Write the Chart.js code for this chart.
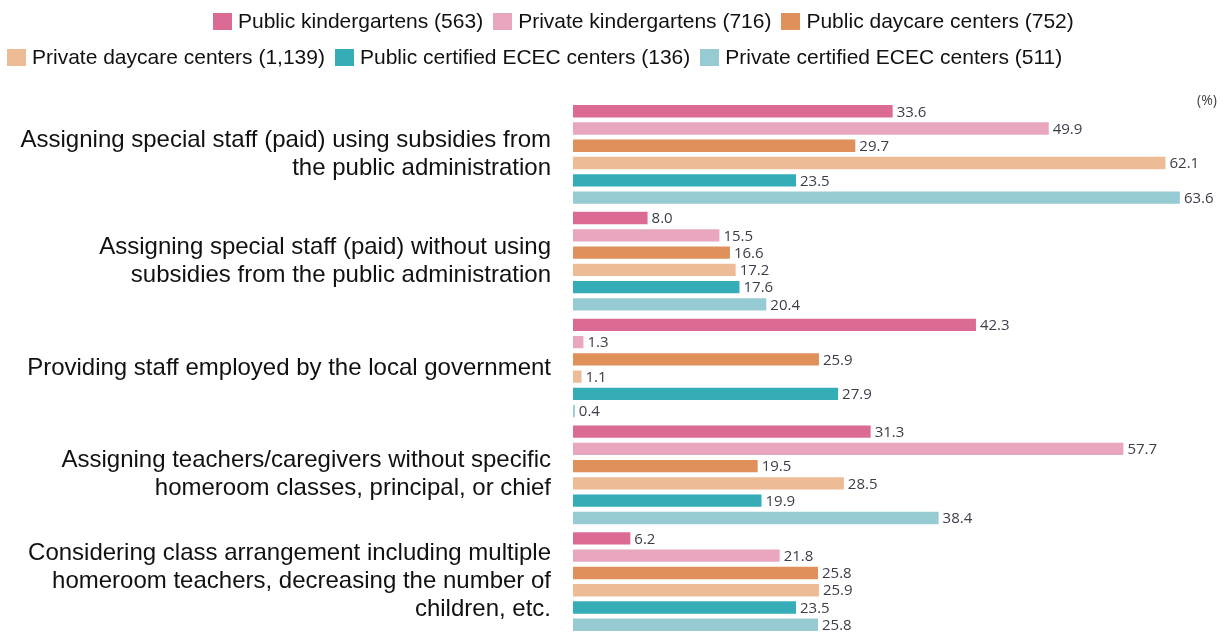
<!DOCTYPE html>
<html>
<head>
<meta charset="utf-8">
<script src="https://cdn.jsdelivr.net/npm/chart.js@4.4.1/dist/chart.umd.min.js"></script>
<style>
  html, body { margin: 0; padding: 0; background: #fff; }
  .wrap { position: relative; width: 1229px; height: 635px; overflow: hidden; }
  .legend-row { position: absolute; display: flex; align-items: center; font-family: "Liberation Sans", Arial, sans-serif; font-size: 21px; color: #111; white-space: nowrap; }
  .legend-item { display: flex; align-items: center; margin-right: 10px; }
  .legend-box { width: 19px; height: 17px; margin-right: 6px; }
  .unit { position: absolute; left: 1197px; top: 90px; font-family: "Open Sans", sans-serif; font-size: 14px; color: #444; }
</style>
</head>
<body>
<div class="wrap">
  <canvas id="chart" width="1229" height="635"></canvas>
  <div class="legend-row" id="row1" style="left: 213px; top: 9px;"></div>
  <div class="legend-row" id="row2" style="left: 7px; top: 45px;"></div>
  <div class="unit">(%)</div>
</div>
<script>
const categories = [
  ["Assigning special staff (paid) using subsidies from", "the public administration"],
  ["Assigning special staff (paid) without using", "subsidies from the public administration"],
  "Providing staff employed by the local government",
  ["Assigning teachers/caregivers without specific", "homeroom classes, principal, or chief"],
  ["Considering class arrangement including multiple", "homeroom teachers, decreasing the number of", "children, etc."]
];

const seriesNames = [
  "Public kindergartens (563)",
  "Private kindergartens (716)",
  "Public daycare centers (752)",
  "Private daycare centers (1,139)",
  "Public certified ECEC centers (136)",
  "Private certified ECEC centers (511)"
];

const colors = ["#db6b95", "#e8a6bf", "#e0915b", "#edbb96", "#34adb7", "#97cbd4"];

const publicKinder = [33.6, 8.0, 42.3, 31.3, 6.2];
const privateKinder = [49.9, 15.5, 1.3, 57.7, 21.8];
const publicDaycare = [29.7, 16.6, 25.9, 19.5, 25.8];
const privateDaycare = [62.1, 17.2, 1.1, 28.5, 25.9];
const publicEcec = [23.5, 17.6, 27.9, 19.9, 23.5];
const privateEcec = [63.6, 20.4, 0.4, 38.4, 25.8];

const seriesValues = [publicKinder, privateKinder, publicDaycare, privateDaycare, publicEcec, privateEcec];

// legend rows (first three items on top, rest below)
seriesNames.forEach((name, i) => {
  const row = document.getElementById(i < 3 ? "row1" : "row2");
  const item = document.createElement("div");
  item.className = "legend-item";
  item.innerHTML = '<span class="legend-box" style="background:' + colors[i] + '"></span>' + name;
  row.appendChild(item);
});

// value text at the end of each bar
const valueLabels = {
  id: "valueLabels",
  afterDatasetsDraw(chart) {
    const ctx = chart.ctx;
    ctx.save();
    ctx.font = "15px 'Open Sans', sans-serif";
    ctx.fillStyle = "#3d3d4a";
    ctx.textAlign = "left";
    ctx.textBaseline = "middle";
    chart.data.datasets.forEach((ds, di) => {
      chart.getDatasetMeta(di).data.forEach((bar, i) => {
        ctx.fillText(ds.data[i].toFixed(1), bar.x + 3, bar.y + 1);
      });
    });
    ctx.restore();
  }
};

new Chart(document.getElementById("chart"), {
  type: "bar",
  data: {
    labels: categories,
    datasets: seriesNames.map((name, i) => ({
      label: name,
      data: seriesValues[i],
      backgroundColor: colors[i],
      borderColor: "rgba(255,255,255,0.7)",
      borderWidth: 1,
      borderSkipped: false,
      categoryPercentage: 0.97,
      barPercentage: 0.83
    }))
  },
  options: {
    indexAxis: "y",
    responsive: false,
    animation: false,
    layout: { padding: { top: 101, right: 6, bottom: 0, left: 0 } },
    plugins: {
      legend: { display: false },
      tooltip: { enabled: false }
    },
    scales: {
      x: {
        display: false,
        min: 0,
        max: 68
      },
      y: {
        grid: { display: false, drawTicks: false },
        border: { display: false },
        ticks: {
          color: "#111",
          padding: 21,
          font: { family: "'Liberation Sans', Arial, sans-serif", size: 24, lineHeight: 1.17 }
        },
        afterFit(scale) {
          // fixed label column, no extra room for multi-line end labels
          scale.width = 572;
          scale.paddingTop = 0;
          scale.paddingBottom = 0;
        }
      }
    }
  },
  plugins: [valueLabels]
});
</script>
</body>
</html>
